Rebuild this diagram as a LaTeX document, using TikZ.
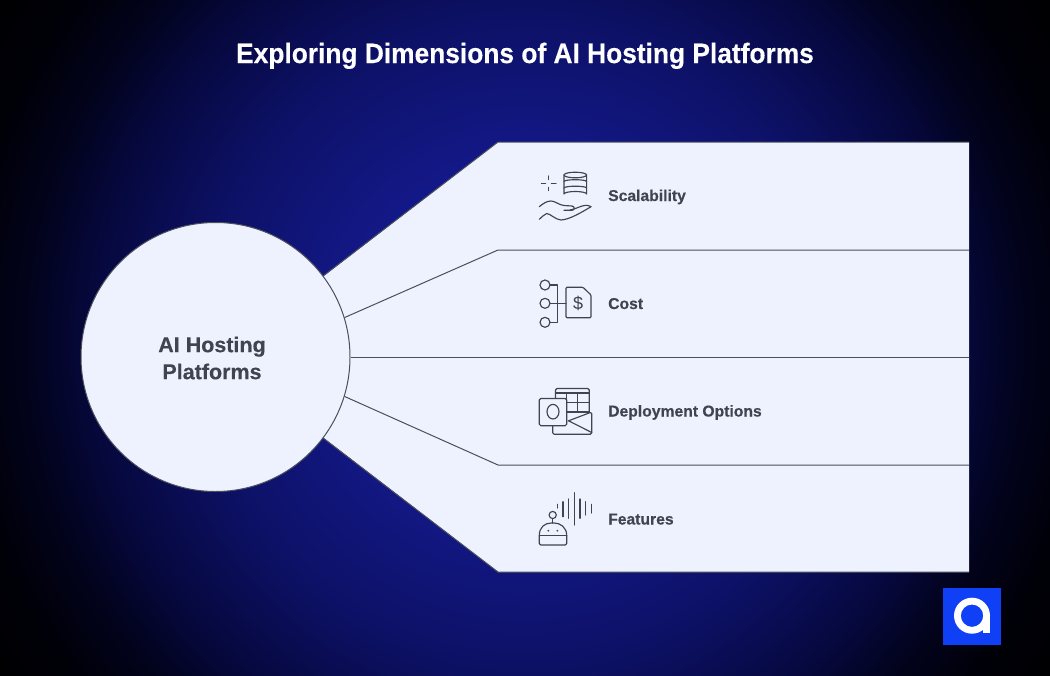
\documentclass[tikz,border=0pt]{standalone}
\usepackage{fontspec}
\setmainfont[BoldFeatures={FakeBold=0.25}]{Liberation Sans}
\newfontfamily\titlefont[FakeStretch=0.94,BoldFeatures={FakeBold=0.25}]{Liberation Sans}
\definecolor{panel}{HTML}{EEF2FF}
\definecolor{ink}{HTML}{40444F}
\definecolor{rule}{HTML}{4A4F5A}
\definecolor{logoblue}{HTML}{0F40F5}
\definecolor{glowa}{RGB}{22,27,152}
\definecolor{glowb}{RGB}{20,25,140}
\definecolor{glowc}{RGB}{13,17,102}
\definecolor{glowd}{RGB}{6,8,62}
\definecolor{glowe}{RGB}{2,3,28}
\definecolor{glowf}{RGB}{0,0,8}
\definecolor{glowg}{RGB}{0,0,0}
\pgfdeclareradialshading{bgglow}{\pgfpoint{0bp}{0bp}}{
 color(0bp)=(glowa);
 color(7.5bp)=(glowb);
 color(15bp)=(glowc);
 color(20bp)=(glowd);
 color(23bp)=(glowe);
 color(26bp)=(glowf);
 color(30bp)=(glowg);
 color(50bp)=(glowg)}
\tikzset{
 hubnode/.style={circle,fill=panel,draw=rule,line width=1pt,minimum size=269pt,inner sep=0pt},
 hubtext/.style={inner sep=0pt,align=center,font=\bfseries\fontsize{21.5}{27}\selectfont,text=ink},
 labeltext/.style={anchor=base west,inner sep=0pt,font=\bfseries\fontsize{15.7}{19}\selectfont,text=ink},
 titletext/.style={inner sep=0pt,anchor=base,font=\titlefont\bfseries\fontsize{28}{31}\selectfont,text=white},
 sep/.style={draw=rule,line width=1pt},
 icon/.style={draw=ink,line width=1.15pt,line join=round,line cap=round,fill=none}
}
\begin{document}
\begin{tikzpicture}[x=1pt,y=-1pt]
\useasboundingbox (0,0) rectangle (1050,675);
\fill[black] (0,0) rectangle (1050,675);
\begin{scope}
\clip (0,0) rectangle (1050,675);
\shade[shading=bgglow] (-15,-200) rectangle (1065,880);
\end{scope}
\node[titletext] (title) at (525,63) {Exploring Dimensions of AI Hosting Platforms};
% panels
\coordinate (tl) at (498,142); \coordinate (tr) at (969,142);
\coordinate (br) at (969,572); \coordinate (bl) at (498,572);
\coordinate (al) at (498,250); \coordinate (ar) at (969,250);
\coordinate (cr) at (969,357);
\coordinate (dl) at (498,465); \coordinate (dr) at (969,465);
\coordinate (hubc) at (215.5,357);
\fill[panel] (324,276) -- (tl) -- (tr) -- (br) -- (bl) -- (324,438) -- cycle;
\node[hubnode] (hub) at (hubc) {};
\node[hubtext] (hublabel) at (212,358) {AI Hosting\\Platforms};
\draw[sep] (hub.37) -- (tl) -- (tr);
\draw[sep] (hub.-37) -- (bl) -- (br);
\draw[sep] (hub.17) -- (al) -- (ar);
\draw[sep] (hub.0) -- (cr);
\draw[sep] (hub.-17) -- (dl) -- (dr);
\node[labeltext] (l1) at (608,201) {Scalability};
\node[labeltext] (l2) at (608,309) {Cost};
\node[labeltext] (l3) at (608,416.5) {Deployment Options};
\node[labeltext] (l4) at (608,524.5) {Features};
% scalability icon
\begin{scope}[icon]
\draw (575.3,175) ellipse (11.3 and 2.8);
\draw (564,175) -- (564,194) arc[start angle=180,end angle=360,x radius=11.3,y radius=2.5] -- (586.6,175);
\draw (564,181.5) arc[start angle=180,end angle=360,x radius=11.3,y radius=1.8];
\draw (564,188) arc[start angle=180,end angle=360,x radius=11.3,y radius=1.8];
\draw (548.5,176) -- (548.5,179.5) (548.5,187.5) -- (548.5,190.5) (541.5,183.5) -- (545.5,183.5) (551.5,183.5) -- (556,183.5);
\draw (539.3,206.7) .. controls (543,203.5) and (547,201) .. (551,201) .. controls (555,201) and (559,205) .. (564,205.5) -- (572,206) .. controls (575,206.5) and (575,210) .. (572,210.3) -- (564,210.3);
\draw (570,210) .. controls (576,209) and (581,205.5) .. (586,205.3) .. controls (588,205.3) and (590,206) .. (591,206.7);
\draw (539.3,219.3) .. controls (542,217) and (544,214.5) .. (546.7,213.5) .. controls (551,214) and (555,219.5) .. (561,220) .. controls (570,219.5) and (582,212) .. (591,206.7);
\end{scope}
% cost icon
\begin{scope}[icon]
\draw (545,285) circle (5) (545,303.3) circle (5) (545,322.3) circle (5);
\draw (550,285) -- (557.3,285) -- (557.3,322.3) -- (550,322.3);
\draw (550,303.3) -- (566,303.3);
\draw[rounded corners=1pt] (566,287.3) -- (583,287.3) -- (591,295) -- (591,317.7) -- (566,317.7) -- cycle;
\node[inner sep=0pt,font=\fontsize{18}{18}\selectfont,text=ink] (dollar) at (578,303.3) {\$};
\end{scope}
% deployment icon
\begin{scope}[icon]
\draw[rounded corners=1.5pt] (555.5,398.3) -- (555.5,388.5) -- (589.3,388.5) -- (589.3,412);
\draw (555.5,393) -- (589.3,393) (566.7,402.5) -- (589.3,402.5) (566.7,412) -- (589.3,412);
\draw (566.7,393) -- (566.7,412) (577.3,393) -- (577.3,412);
\draw[rounded corners=1.5pt] (539.3,398.5) rectangle (566.7,425.7);
\draw (553,411.7) ellipse (6 and 7.3);
\draw[rounded corners=1.5pt] (552.7,425.7) -- (552.7,434.3) -- (591.7,434.3) -- (591.7,412) -- (568,421);
\draw (569,421) -- (591.7,432.5);
\end{scope}
% features icon
\begin{scope}[icon]
\draw (552.7,515) circle (3.6);
\draw (552.7,518.6) -- (552.7,523);
\draw[rounded corners=1.5pt] (539.3,535.7) -- (539.3,537) .. controls (539.3,527) and (545,523) .. (552.7,523) .. controls (560,523) and (566.7,527) .. (566.7,537) -- (566.7,545) -- (539.3,545) -- cycle;
\draw (539.3,535.7) -- (566.7,535.7);
\fill[ink] (548.3,530.7) circle (1) (557.3,530.7) circle (1);
\draw (557.3,504.3) -- (557.3,508) (563,501.7) -- (563,516.7) (568.7,499) -- (568.7,518.3) (574.3,492.7) -- (574.3,525) (580,499) -- (580,518.3) (585.7,501.7) -- (585.7,515) (591.3,504.3) -- (591.3,513);
\end{scope}
% logo
\fill[logoblue] (943,588) rectangle (1001,644.5);
\fill[white,even odd rule] (972,615.7) circle (18) (972,615.7) circle (11.2);
\fill[white] (983.2,615.7) rectangle (990,632.7);
\end{tikzpicture}
\end{document}
